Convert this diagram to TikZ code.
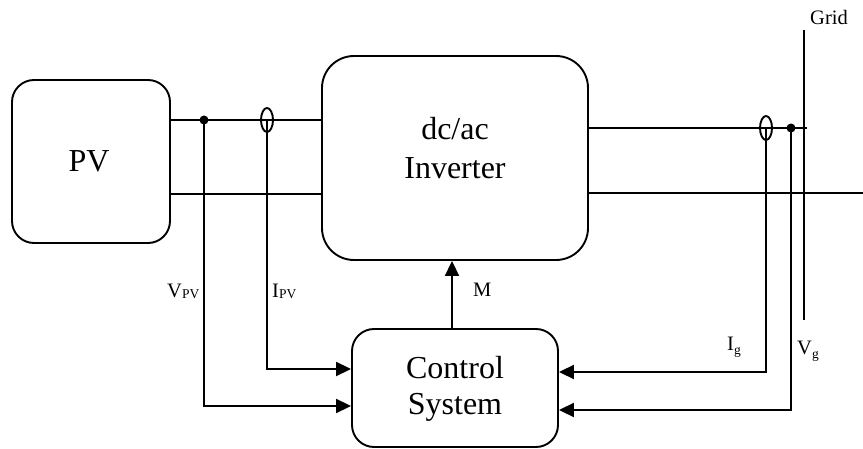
\documentclass[tikz,border=0pt]{standalone}
\usepackage{fontspec}
\setmainfont{Liberation Serif}
\usetikzlibrary{arrows.meta,shapes.geometric}

\tikzset{
  wire/.style={line width=1.9pt},
  sig/.style={line width=1.9pt,-{Triangle[length=15pt,width=14pt]}},
  block/.style={draw,line width=1.9pt,inner sep=0pt},
  big/.style={inner sep=0pt,font=\fontsize{32}{38}\selectfont},
  lbl/.style={inner sep=0pt,anchor=base west,font=\fontsize{20.5}{24}\selectfont},
  junction/.style={circle,fill,inner sep=0pt,minimum size=9pt},
  sensor/.style={ellipse,draw,line width=1.9pt,inner sep=0pt,minimum width=12pt,minimum height=24pt}
}
\newcommand{\lowsub}[2]{\raisebox{#1}{\fontsize{13.5}{13.5}\selectfont #2}}

\begin{document}
\begin{tikzpicture}[x=1pt,y=-1pt]
\useasboundingbox (0,0) rectangle (863,449);

% blocks
\node[block,rounded corners=22pt,minimum width=158pt,minimum height=163pt] (pv) at (91,161.5) {};
\node[block,rounded corners=32pt,minimum width=266pt,minimum height=204pt] (inv) at (455,158) {};
\node[block,rounded corners=22pt,minimum width=206pt,minimum height=118pt] (ctrl) at (455,388) {};

% block texts
\node[big,anchor=base] (pvtxt) at (89,172) {PV};
\node[big,anchor=base] (invtxt1) at (455,140) {dc/ac};
\node[big,anchor=base] (invtxt2) at (455,179) {Inverter};
\node[big,anchor=base] (ctrltxt1) at (455,378) {Control};
\node[big,anchor=base] (ctrltxt2) at (455,414) {System};

% measuring points
\node[junction] (vpv) at (204,120) {};
\node[sensor] (ipv) at (267,120) {};
\node[sensor] (ig) at (766,128) {};
\node[junction] (vg) at (791,128) {};

% helper rows and ends
\coordinate (lowL) at (0,194);
\coordinate (lowR) at (0,193);
\coordinate (topend) at (807,128);
\coordinate (lowend) at (863,193);
\coordinate (gridtop) at (804,30);
\coordinate (gridbot) at (804,320);

% dc side
\draw[wire] (pv.east |- vpv) -- (vpv.center) -- (ipv.center) -- (inv.west |- ipv);
\draw[wire] (pv.east |- lowL) -- (inv.west |- lowL);

% ac side
\draw[wire] (inv.east |- ig) -- (ig.center) -- (vg.center) -- (topend);
\draw[wire] (inv.east |- lowR) -- (lowend);
\draw[wire] (gridtop) -- (gridbot);

% feedback signals
\draw[sig] (vpv.center) |- ([yshift=-18pt]ctrl.west);
\draw[sig] (ipv.center) |- ([yshift=19pt]ctrl.west);
\draw[sig] (ig.center) |- ([yshift=16pt]ctrl.east);
\draw[sig] (vg.center) |- ([yshift=-22pt]ctrl.east);
\draw[sig] ([xshift=-3pt]ctrl.north) -- ([xshift=-3pt]inv.south);

% labels
\node[lbl] (lvpv) at (167,298) {V\lowsub{-1pt}{PV}};
\node[lbl] (lipv) at (272,298) {I\lowsub{-1pt}{PV}};
\node[lbl] (lm) at (473,297) {M};
\node[lbl] (lig) at (727,351) {I\lowsub{-4pt}{g}};
\node[lbl] (lvg) at (797,355) {V\lowsub{-4pt}{g}};
\node[lbl] (lgrid) at (810,25) {Grid};
\end{tikzpicture}
\end{document}
